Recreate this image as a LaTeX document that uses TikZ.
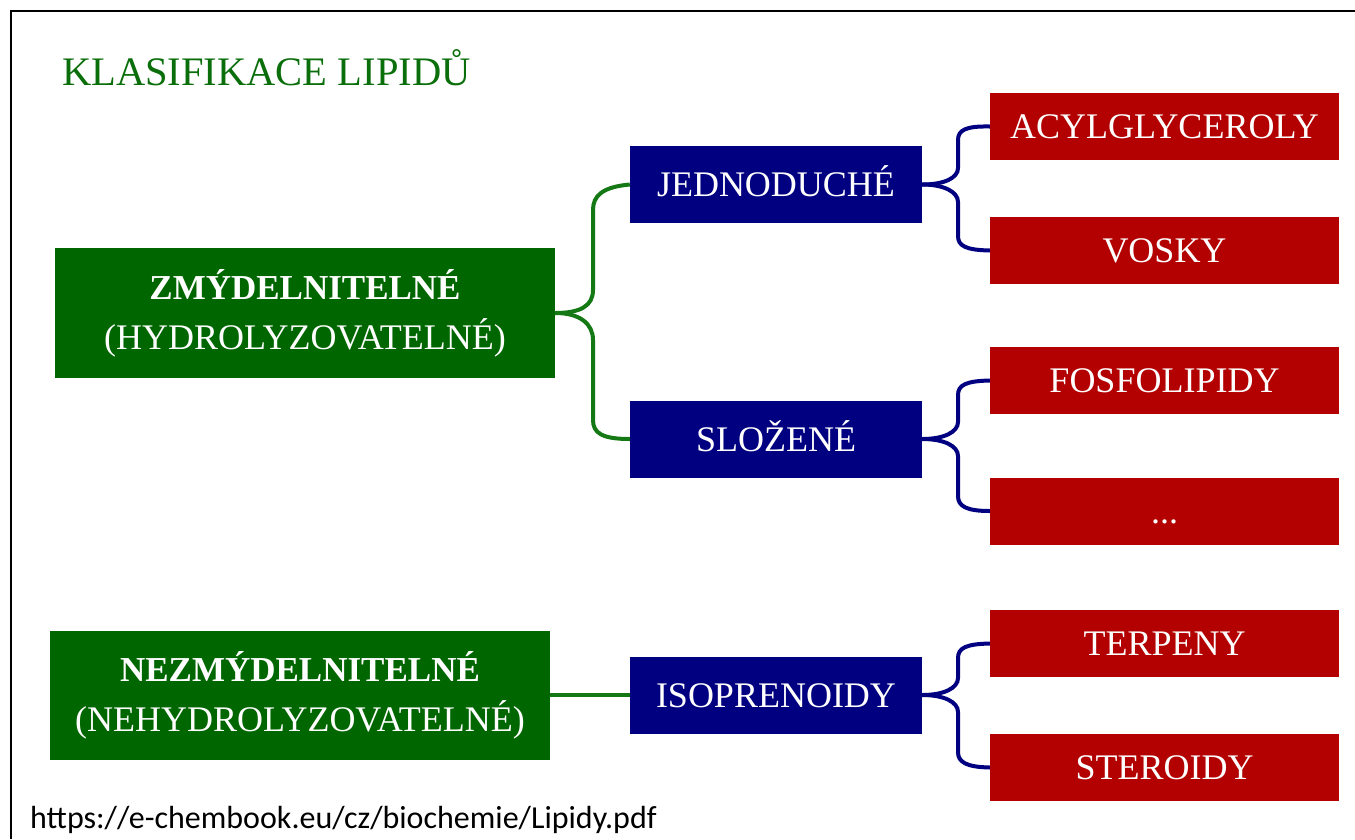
\documentclass[tikz,border=0pt]{standalone}
\usepackage{fontspec}
\setmainfont{Liberation Serif}
\newfontfamily\urlfont{Carlito}
\definecolor{boxgreen}{RGB}{0,102,0}
\definecolor{titlegreen}{RGB}{10,110,10}
\definecolor{linegreen}{RGB}{20,120,20}
\definecolor{boxblue}{RGB}{0,0,128}
\definecolor{boxred}{RGB}{179,0,0}
\tikzset{
  catbox/.style={fill=boxgreen, text=white, minimum width=500pt, minimum height=130pt, inner sep=0pt, align=center, font=\fontsize{36}{50}\selectfont},
  subbox/.style={fill=boxblue, text=white, minimum width=292pt, minimum height=77pt, inner sep=0pt, text height=24pt, text depth=0pt, font=\fontsize{36}{40}\selectfont},
  leafbox/.style={fill=boxred, text=white, minimum width=349pt, minimum height=67pt, inner sep=0pt, text height=24pt, text depth=0pt, font=\fontsize{36}{40}\selectfont},
  gline/.style={draw=linegreen, line width=4pt},
  bline/.style={draw=boxblue, line width=4pt},
}
\begin{document}
\begin{tikzpicture}[x=1pt,y=-1pt]
\useasboundingbox (0,0) rectangle (1355,839);
\fill[white] (0,0) rectangle (1355,839);
% frame
\draw[line width=2.5pt] (1355,11) -- (11,11) -- (11,839);
% title
\node[anchor=base west, text=titlegreen, inner sep=0pt, font=\fontsize{40.5}{44}\selectfont] (title) at (62,85) {KLASIFIKACE LIPIDŮ};
% level 1
\node[catbox] (g1) at (305,313) {{\fontsize{35}{50}\selectfont\bfseries ZMÝDELNITELNÉ}\\(HYDROLYZOVATELNÉ)};
\node[catbox, minimum height=129pt] (g2) at (300,695) {{\fontsize{35}{50}\selectfont\bfseries NEZMÝDELNITELNÉ}\\(NEHYDROLYZOVATELNÉ)};
% level 2
\node[subbox] (b1) at (776,184.5) {JEDNODUCHÉ};
\node[subbox] (b2) at (776,439) {SLOŽENÉ};
\node[subbox] (b3) at (776,695) {ISOPRENOIDY};
% level 3
\node[leafbox] (r1) at (1164.5,126.5) {ACYLGLYCEROLY};
\node[leafbox] (r2) at (1164.5,250.5) {VOSKY};
\node[leafbox] (r3) at (1164.5,380.5) {FOSFOLIPIDY};
\node[leafbox] (r4) at (1164.5,511) {...};
\node[leafbox] (r5) at (1164.5,643.5) {TERPENY};
\node[leafbox] (r6) at (1164.5,767.5) {STEROIDY};
% url
\node[anchor=base west, inner sep=0pt, font=\urlfont\fontsize{32}{36}\selectfont] (url) at (30,828) {https://e-chembook.eu/cz/biochemie/Lipidy.pdf};
% green brace
\draw[gline] (g1.east) .. controls +(25,0) and (593,306) .. (593,290) -- (593,210) .. controls (593,196) and (602,187) .. (b1.west);
\draw[gline] (g1.east) .. controls +(25,0) and (593,324) .. (593,340) -- (593,420) .. controls (593,433) and (602,439) .. (b2.west);
\draw[gline] (g2.east) -- (b3.west);
% blue braces
\draw[bline] (b1.east) .. controls +(22,0) and (958,178) .. (958,168) -- (958,140) .. controls (958,130) and (966,126) .. (r1.west);
\draw[bline] (b1.east) .. controls +(22,0) and (958,192) .. (958,202) -- (958,236) .. controls (958,246) and (966,250) .. (r2.west);
\draw[bline] (b2.east) .. controls +(22,0) and (958,432) .. (958,422) -- (958,395) .. controls (958,385) and (966,381) .. (r3.west);
\draw[bline] (b2.east) .. controls +(22,0) and (958,446) .. (958,456) -- (958,496) .. controls (958,506) and (966,511) .. (r4.west);
\draw[bline] (b3.east) .. controls +(22,0) and (958,688) .. (958,678) -- (958,658) .. controls (958,648) and (966,644) .. (r5.west);
\draw[bline] (b3.east) .. controls +(22,0) and (958,702) .. (958,712) -- (958,752) .. controls (958,762) and (966,767) .. (r6.west);
\end{tikzpicture}
\end{document}
